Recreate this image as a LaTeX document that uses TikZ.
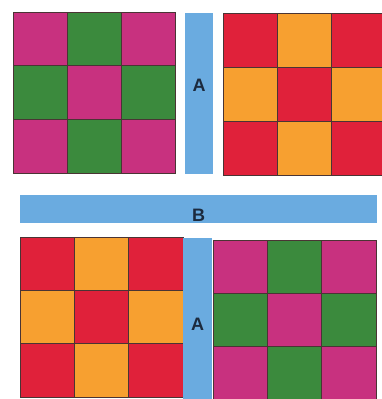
\documentclass[tikz,border=0pt]{standalone}
\usepackage{fontspec}
\setsansfont{Liberation Sans}
\usetikzlibrary{positioning}
\definecolor{berry}{HTML}{C8317F}
\definecolor{leaf}{HTML}{3B8A3D}
\definecolor{tomato}{HTML}{E0213A}
\definecolor{amber}{HTML}{F7A030}
\definecolor{sky}{HTML}{6AABE0}
\definecolor{ink}{HTML}{1C2A3E}
\definecolor{seam}{HTML}{4A3434}
% x0, y0, cell width, cell height, corner colour, other colour
\newcommand{\board}[6]{%
  \foreach \i in {0,1,2} {
    \foreach \j in {0,1,2} {
      \pgfmathtruncatemacro{\pty}{mod(\i+\j,2)}
      \ifodd\pty \def\fillc{#6}\else \def\fillc{#5}\fi
      \draw[cell=\fillc] ({#1+\i*#3},{#2+\j*#4}) rectangle +(#3,#4);
    }
  }
  \draw[rim] (#1,#2) rectangle +({3*#3},{3*#4});
}
\tikzset{
  cell/.style    = {draw=seam, fill=#1, line width=0.5pt},
  rim/.style     = {draw=seam, line width=0.8pt},
  bar/.style     = {rectangle, fill=sky, draw=none, inner sep=0pt,
                    minimum width=#1},
  barlabel/.style = {font=\sffamily\bfseries\fontsize{18}{18}\selectfont, text=ink, inner sep=0pt},
}
\begin{document}
\begin{tikzpicture}[x=1pt, y=-1pt]
  \useasboundingbox (0,0) rectangle (382,399);
  \clip (0,0) rectangle (382,399);
  \fill[white] (0,0) rectangle (382,399);

  % the four boards
  \board{13}{12}{54}{53.7}{berry}{leaf}
  \board{223}{13}{54}{54}{tomato}{amber}
  \board{20}{237}{54.3}{53.3}{tomato}{amber}
  \board{213}{240}{54.3}{53}{berry}{leaf}

  % the bars
  \node[bar=28pt, minimum height=161pt] (barAtop) at (199,93.5) {};
  \node[barlabel] (labAtop) at ([yshift=8pt]barAtop.center) {A};
  \node[bar=357pt, minimum height=28pt] (barB) at (198.5,209) {};
  \node[barlabel] (labB) at ([yshift=-6pt]barB.center) {B};
  \node[bar=29pt, minimum height=166pt] (barAbot) at (197.5,321) {};
  \node[barlabel] (labAbot) at ([yshift=-3pt]barAbot.center) {A};
\end{tikzpicture}
\end{document}
